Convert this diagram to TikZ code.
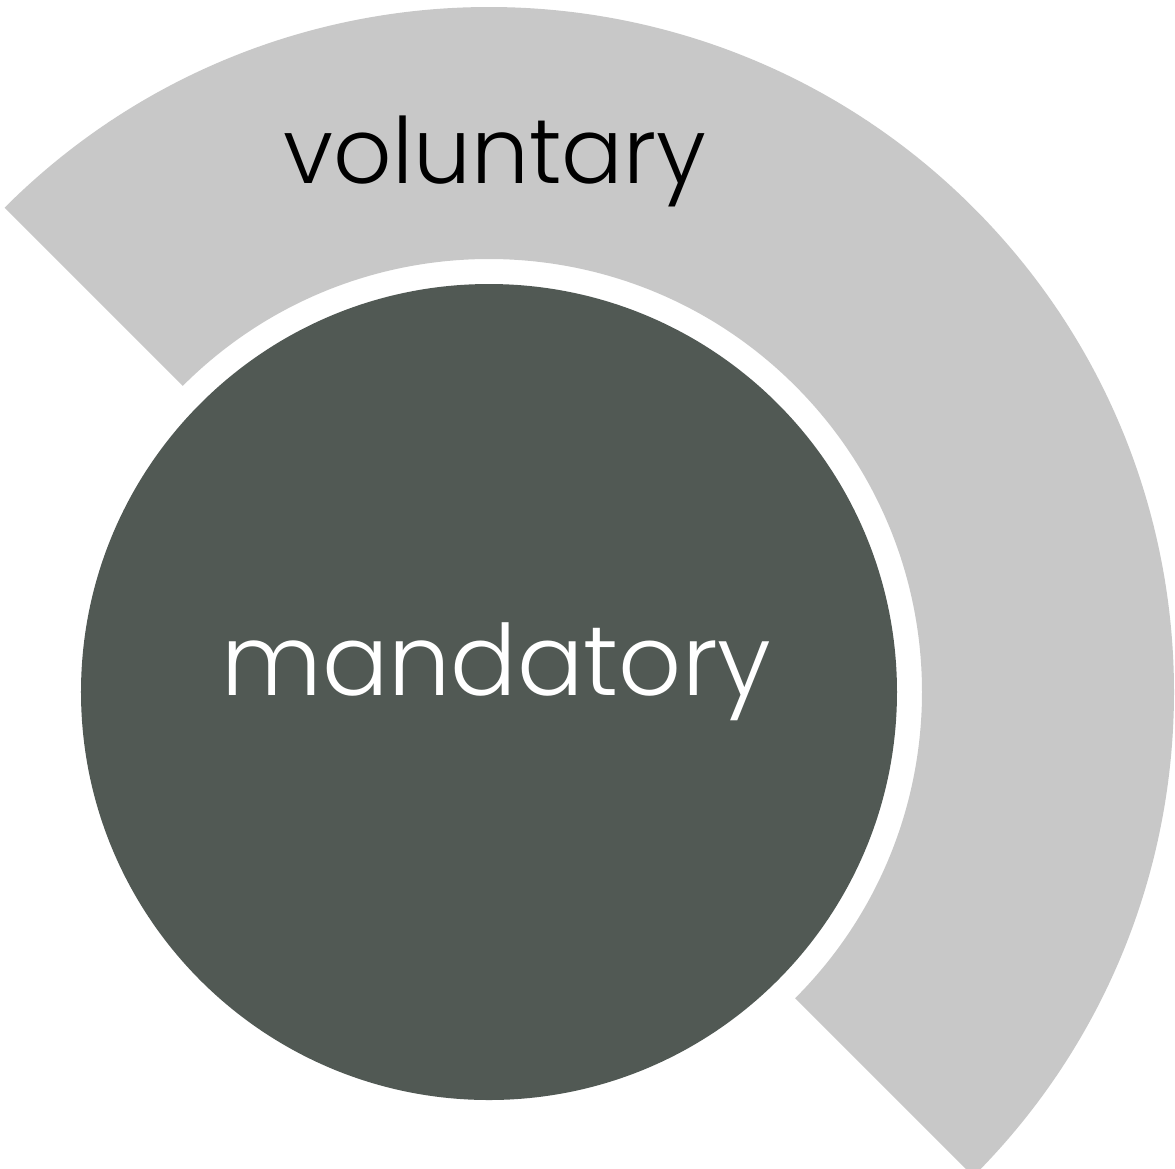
\documentclass[tikz,border=0pt]{standalone}
\usepackage{fontspec}
\setmainfont{Poppins}[UprightFont=* Light]
\usepackage{tikz}
\usetikzlibrary{calc}
\definecolor{ringgray}{HTML}{C8C8C8}
\definecolor{coregray}{HTML}{515954}
\tikzset{lbl/.style={anchor=base, inner sep=0}}

\begin{document}
\begin{tikzpicture}
\useasboundingbox (-4.89,-4.76) rectangle (6.86,6.92);
% outer half ring
\fill[ringgray] (135:6.85) arc[start angle=135, end angle=-45, radius=6.85]
  -- (-45:4.33) arc[start angle=-45, end angle=135, radius=4.33] -- cycle;
\node[circle, fill=coregray, minimum size=8.16cm, inner sep=0] (core) at (0,0) {};
\node[lbl, font=\fontsize{26}{32}\selectfont] (vol) at (0.06,5.09) {voluntary};
\node[lbl, white, font=\fontsize{28}{34}\selectfont] (man) at ($(core.center)+(0.075,-0.03)$) {mandatory};
\end{tikzpicture}
\end{document}
